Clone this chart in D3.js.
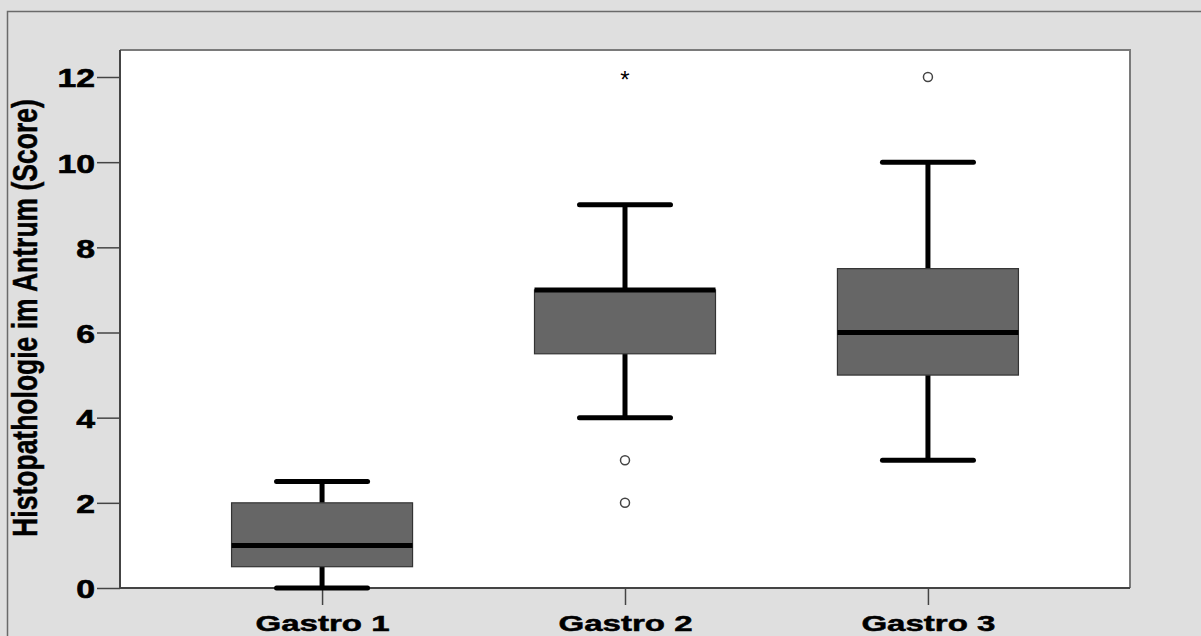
<!DOCTYPE html>
<html>
<head>
<meta charset="utf-8">
<script src="https://cdn.jsdelivr.net/npm/d3@7"></script>
<style>
  html, body { margin: 0; padding: 0; background: #dfdfdf; }
  svg { display: block; }
  text { font-family: "Liberation Sans", Arial, sans-serif; font-weight: bold; fill: #000; }
</style>
</head>
<body>
<svg id="chart" width="1201" height="636"></svg>
<script>
// ---- data ----
const categories = ["Gastro 1", "Gastro 2", "Gastro 3"];
const whiskerLow = [0, 4, 3];
const q1 = [0.5, 5.5, 5];
const medians = [1, 7, 6];
const q3 = [2, 7, 7.5];
const whiskerHigh = [2.5, 9, 10];
const outliers = [[], [3, 2], [12]];       // circles
const extremes = [[], [12], []];           // asterisks
const yTicks = [0, 2, 4, 6, 8, 10, 12];
const yLabel = "Histopathologie im Antrum (Score)";

// ---- layout ----
const svg = d3.select("#chart");
const W = 1201, H = 636;
const plot = { left: 120, top: 50, right: 1130, bottom: 588 };

svg.append("rect").attr("x", 0).attr("y", 0).attr("width", W).attr("height", H).attr("fill", "#dfdfdf");
// outer frame
svg.append("rect").attr("x", 7.5).attr("y", 11.5).attr("width", W + 20).attr("height", H + 20)
  .attr("fill", "none").attr("stroke", "#6a6a6a").attr("stroke-width", 1.5);
// plot background
svg.append("rect").attr("x", plot.left).attr("y", plot.top)
  .attr("width", plot.right - plot.left).attr("height", plot.bottom - plot.top)
  .attr("fill", "#ffffff");

const x = d3.scalePoint().domain(categories).range([plot.left, plot.right]).padding(0.667);
const y = d3.scaleLinear().domain([0, 12]).range([plot.bottom, 77]);

// plot frame (top/right lighter)
svg.append("path")
  .attr("d", `M${plot.left},${plot.top}H${plot.right}V${plot.bottom}`)
  .attr("fill", "none").attr("stroke", "#7a7a7a").attr("stroke-width", 2);

// y axis
const yAxis = svg.append("g").attr("transform", `translate(${plot.left},0)`)
  .call(d3.axisLeft(y).tickValues(yTicks).tickSize(23).tickPadding(2).tickFormat(d3.format("d")));
yAxis.select(".domain").attr("stroke", "#444").attr("stroke-width", 2).attr("d", `M0,${plot.top}V${plot.bottom}`);
yAxis.selectAll(".tick line").attr("stroke", "#444").attr("stroke-width", 1.5);
yAxis.selectAll(".tick text").each(function() {
  const t = d3.select(this);
  const xx = +t.attr("x");
  t.attr("x", null).attr("dy", null)
   .attr("font-size", 25).attr("dominant-baseline", "central")
   .attr("stroke", "#000").attr("stroke-width", 0.6)
   .attr("transform", `translate(${xx},1) scale(1.35,1)`);
});

// x axis
const xAxis = svg.append("g").attr("transform", `translate(0,${plot.bottom})`)
  .call(d3.axisBottom(x).tickSize(17).tickPadding(6));
xAxis.select(".domain").attr("stroke", "#444").attr("stroke-width", 2).attr("d", `M${plot.left},0H${plot.right}`);
xAxis.selectAll(".tick line").attr("stroke", "#444").attr("stroke-width", 1.5);
xAxis.selectAll(".tick text").each(function() {
  const t = d3.select(this);
  t.attr("y", null).attr("dy", null).attr("font-size", 22.5)
   .attr("stroke", "#000").attr("stroke-width", 0.5)
   .attr("transform", `translate(0,43) scale(1.47,1)`);
});

// y label
svg.append("text")
  .attr("transform", `translate(37,318) scale(1.3,1) rotate(-90)`)
  .attr("text-anchor", "middle")
  .attr("font-size", 26.5)
  .attr("stroke", "#000").attr("stroke-width", 0.4)
  .text(yLabel);

// ---- boxes ----
const boxW = 181, capW = 91;
const g = svg.append("g");
categories.forEach((c, i) => {
  const cx = x(c);
  // whiskers
  g.append("line").attr("x1", cx).attr("x2", cx).attr("y1", y(whiskerLow[i])).attr("y2", y(q1[i]))
    .attr("stroke", "#000").attr("stroke-width", 5);
  g.append("line").attr("x1", cx).attr("x2", cx).attr("y1", y(q3[i])).attr("y2", y(whiskerHigh[i]))
    .attr("stroke", "#000").attr("stroke-width", 5);
  [whiskerLow[i], whiskerHigh[i]].forEach(v => {
    g.append("line").attr("x1", cx - capW / 2).attr("x2", cx + capW / 2).attr("y1", y(v)).attr("y2", y(v))
      .attr("stroke", "#000").attr("stroke-width", 5).attr("stroke-linecap", "round");
  });
  // box
  g.append("rect").attr("x", cx - boxW / 2).attr("y", y(q3[i]))
    .attr("width", boxW).attr("height", y(q1[i]) - y(q3[i]))
    .attr("fill", "#666666").attr("stroke", "#333").attr("stroke-width", 1.2);
  // median
  g.append("line").attr("x1", cx - boxW / 2).attr("x2", cx + boxW / 2).attr("y1", y(medians[i])).attr("y2", y(medians[i]))
    .attr("stroke", "#000").attr("stroke-width", 5);
  // outliers
  outliers[i].forEach(v => {
    g.append("circle").attr("cx", cx).attr("cy", y(v)).attr("r", 4.5)
      .attr("fill", "#fff").attr("stroke", "#444").attr("stroke-width", 1.5);
  });
  extremes[i].forEach(v => {
    g.append("text").attr("x", cx).attr("y", y(v) + 11).attr("text-anchor", "middle")
      .style("font-size", "24px").style("font-weight", "normal").text("*");
  });
});
</script>
</body>
</html>
